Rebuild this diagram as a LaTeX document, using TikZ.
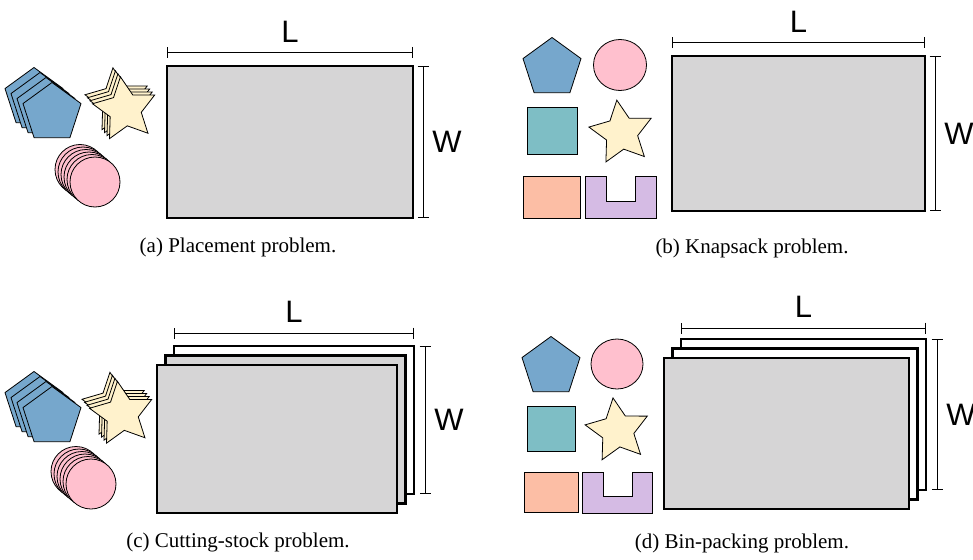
\documentclass[tikz,border=0pt]{standalone}
\usepackage{fontspec}
\setmainfont{Liberation Serif}
\setsansfont{Liberation Sans}
\usepackage{tikz}
\usetikzlibrary{shapes.geometric,arrows.meta,positioning}

\definecolor{pentablue}{RGB}{118,167,204}
\definecolor{discpink}{RGB}{255,192,206}
\definecolor{staryellow}{RGB}{255,242,204}
\definecolor{tealsq}{RGB}{126,190,197}
\definecolor{peach}{RGB}{252,190,165}
\definecolor{lilac}{RGB}{213,187,228}
\definecolor{sheetgray}{RGB}{214,213,214}

\tikzset{
  piece/.style={draw=black, line width=0.8pt, inner sep=0pt, outer sep=0pt},
  penta/.style={piece, regular polygon, regular polygon sides=5, minimum size=61pt, fill=pentablue},
  starpiece/.style={piece, star, star points=5, star point ratio=2, minimum size=66pt, rotate=8, fill=staryellow},
  disc/.style={piece, circle, minimum size=50pt, fill=discpink},
  sheet/.style={draw=black, line width=2.4pt, fill=sheetgray, inner sep=0pt, outer sep=0pt},
  dimline/.style={line width=0.8pt, {Bar[width=11pt]}-{Bar[width=11pt]}},
  dimlabel/.style={font=\sffamily\fontsize{31}{31}\selectfont, inner sep=0pt},
  caption/.style={font=\fontsize{21}{21}\selectfont, inner sep=0pt},
}

\begin{document}
\begin{tikzpicture}[x=1pt,y=-1pt]
    \useasboundingbox (0,0) rectangle (973,559);

    % ---------------- (a) placement ----------------
    % stacked pieces
    \foreach \i in {3,2,1} \node[penta] (pentA\i) at ({52-6*\i},{113-5*\i}) {};
    \node[penta] (pentA) at (52,113) {};
    \foreach \i in {3,2,1} \node[starpiece] (starA\i) at ({125-2.5*\i},{109.5-3*\i}) {};
    \node[starpiece] (starA) at (125,109.5) {};
    \foreach \i in {5,4,3,2,1} \node[disc] (discA\i) at ({95-3*\i},{182-2.5*\i}) {};
    \node[disc] (discA) at (95,182) {};

    % sheet and its size
    \node[sheet, minimum width=246pt, minimum height=152pt] (sheetA) at (290,142) {};
    \coordinate (lA1) at ([yshift=13.5pt]sheetA.north west);
    \coordinate (lA2) at ([yshift=13.5pt]sheetA.north east);
    \coordinate (wA1) at ([xshift=10pt]sheetA.north east);
    \coordinate (wA2) at ([xshift=10pt]sheetA.south east);
    \draw[dimline] (lA1) -- (lA2) node[midway, above=10pt, dimlabel] (labLA) {L};
    \draw[dimline] (wA1) -- (wA2) node[midway, right=9pt, dimlabel] (labWA) {W};
    \node[caption] (capA) at (238,247) {(a) Placement problem.};

    % ---------------- (b) knapsack ----------------
    \node[penta] (pentB) at (552,68) {};
    \node[piece, ellipse, minimum width=53pt, minimum height=51pt, fill=discpink] (discB) at (620,65) {};
    \draw[piece, fill=tealsq] (527,107) rectangle (577,154);
    \node[starpiece] (starB) at (621.4,132.8) {};
    \draw[piece, fill=peach] (523,176) rectangle (580,218);
    \draw[piece, fill=lilac] (585,176) -- (606,176) -- (606,201) -- (635,201)
                             -- (635,176) -- (656,176) -- (656,218) -- (585,218) -- cycle;

    \node[sheet, minimum width=253pt, minimum height=155pt] (sheetB) at (798.5,133.5) {};
    \coordinate (lB1) at ([yshift=13.3pt]sheetB.north west);
    \coordinate (lB2) at ([yshift=13.3pt]sheetB.north east);
    \coordinate (wB1) at ([xshift=10pt]sheetB.north east);
    \coordinate (wB2) at ([xshift=10pt]sheetB.south east);
    \draw[dimline] (lB1) -- (lB2) node[midway, above=10pt, dimlabel] (labLB) {L};
    \draw[dimline] (wB1) -- (wB2) node[midway, right=9pt, dimlabel] (labWB) {W};
    \node[caption] (capB) at (752,248) {(b) Knapsack problem.};

    % ---------------- (c) cutting stock ----------------
    \foreach \i in {3,2,1} \node[penta] (pentC\i) at ({52-6*\i},{417-5*\i}) {};
    \node[penta] (pentC) at (52,417) {};
    \foreach \i in {3,2,1} \node[starpiece] (starC\i) at ({122-2.5*\i},{414-3*\i}) {};
    \node[starpiece] (starC) at (122,414) {};
    \foreach \i in {5,4,3,2,1} \node[disc] (discC\i) at ({91-3*\i},{484-2.5*\i}) {};
    \node[disc] (discC) at (91,484) {};

    % three sheets, back one empty
    \node[sheet, fill=white, minimum width=240pt, minimum height=148pt] (sheetC1) at (294,420) {};
    \node[sheet, minimum width=240pt, minimum height=148pt] (sheetC2) at (285.5,429.5) {};
    \node[sheet, minimum width=240pt, minimum height=148pt] (sheetC3) at (277,439) {};
    \coordinate (lC1) at ([yshift=13pt]sheetC1.north west);
    \coordinate (lC2) at ([yshift=13pt]sheetC1.north east);
    \coordinate (wC1) at ([xshift=11pt]sheetC1.north east);
    \coordinate (wC2) at ([xshift=11pt]sheetC1.south east);
    \draw[dimline] (lC1) -- (lC2) node[midway, above=10pt, dimlabel] (labLC) {L};
    \draw[dimline] (wC1) -- (wC2) node[midway, right=9pt, dimlabel] (labWC) {W};
    \node[caption] (capC) at (238,542) {(c) Cutting-stock problem.};

    % ---------------- (d) bin packing ----------------
    \node[penta] (pentD) at (551,367) {};
    \node[piece, ellipse, minimum width=52pt, minimum height=50pt, fill=discpink] (discD) at (617,364) {};
    \draw[piece, fill=tealsq] (527,406) rectangle (575,451);
    \node[starpiece] (starD) at (617.6,430.6) {};
    \draw[piece, fill=peach] (524,472) rectangle (578,512);
    \draw[piece, fill=lilac] (582,472) -- (603,472) -- (603,496) -- (632,496)
                             -- (632,472) -- (652,472) -- (652,513) -- (582,513) -- cycle;

    % three bins, two empty ones behind
    \node[sheet, fill=white, minimum width=245pt, minimum height=151pt] (sheetD1) at (803.5,414.5) {};
    \node[sheet, fill=white, minimum width=245pt, minimum height=151pt] (sheetD2) at (795,424) {};
    \node[sheet, minimum width=245pt, minimum height=151pt] (sheetD3) at (786.5,433.5) {};
    \coordinate (lD1) at ([yshift=11pt]sheetD1.north west);
    \coordinate (lD2) at ([yshift=11pt]sheetD1.north east);
    \coordinate (wD1) at ([xshift=11pt]sheetD1.north east);
    \coordinate (wD2) at ([xshift=11pt]sheetD1.south east);
    \draw[dimline] (lD1) -- (lD2) node[midway, above=10pt, dimlabel] (labLD) {L};
    \draw[dimline] (wD1) -- (wD2) node[midway, right=9pt, dimlabel] (labWD) {W};
    \node[caption] (capD) at (742,543) {(d) Bin-packing problem.};
\end{tikzpicture}
\end{document}
